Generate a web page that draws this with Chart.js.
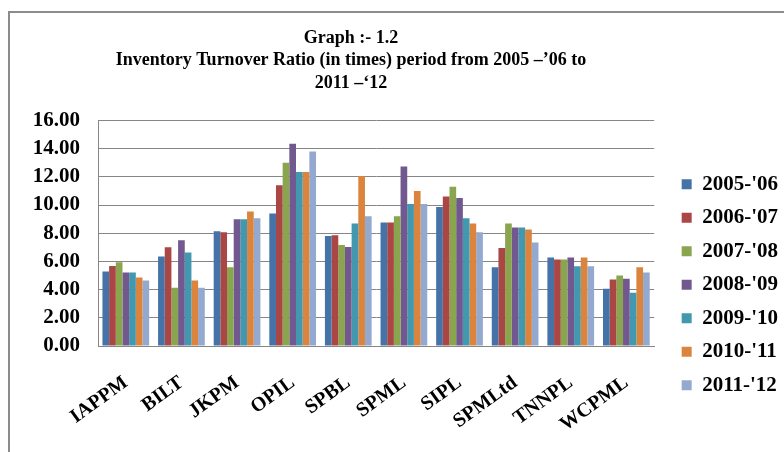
<!DOCTYPE html>
<html>
<head>
<meta charset="utf-8">
<script src="https://cdn.jsdelivr.net/npm/chart.js@4.4.1/dist/chart.umd.min.js"></script>
<style>
  body { margin: 0; background: #fff; overflow: hidden; }
  .frame {
    position: absolute; left: 8px; top: 11px;
    width: 820px; height: 480px;
    border: 2px solid #8c8c8c;
  }
  .box { position: absolute; left: 10px; top: 13px; width: 778px; height: 439px; }
</style>
</head>
<body>
<div class="frame"></div>
<div class="box"><canvas id="myChart"></canvas></div>
<script>
// companies on the x axis
const companies = ["IAPPM", "BILT", "JKPM", "OPIL", "SPBL", "SPML", "SIPL", "SPMLtd", "TNNPL", "WCPML"];
const periods = ["2005-'06", "2006-'07", "2007-'08", "2008-'09", "2009-'10", "2010-'11", "2011-'12"];

// inventory turnover ratio
const y0506 = [5.29, 6.35, 8.14, 9.41, 7.80, 8.76, 9.86, 5.58, 6.28, 4.07];
const y0607 = [5.68, 7.00, 8.07, 11.40, 7.86, 8.76, 10.60, 6.96, 6.14, 4.71];
const y0708 = [5.94, 4.14, 5.58, 13.00, 7.17, 9.20, 11.30, 8.70, 6.14, 5.00];
const y0809 = [5.21, 7.50, 9.00, 14.35, 7.03, 12.74, 10.50, 8.41, 6.28, 4.78];
const y0910 = [5.21, 6.63, 9.00, 12.35, 8.70, 10.07, 9.06, 8.41, 5.65, 3.78];
const y1011 = [4.86, 4.64, 9.55, 12.35, 12.07, 11.00, 8.70, 8.27, 6.28, 5.58];
const y1112 = [4.64, 4.14, 9.06, 13.80, 9.20, 10.07, 8.07, 7.35, 5.65, 5.21];

const yTicks = [0, 2, 4, 6, 8, 10, 12, 14, 16];

const colors = ["#4572A7", "#AA4643", "#89A54E", "#71588F", "#4198AF", "#DB843D", "#93A9CF"];
const seriesList = [y0506, y0607, y0708, y0809, y0910, y1011, y1112];

const serif = "'Liberation Serif', 'Times New Roman', serif";

// move the title a bit left, like in the original sheet
const titleShift = {
  id: "titleShift",
  afterLayout(chart) {
    const t = chart.titleBlock;
    t.left -= 48;
    t.right -= 48;
  }
};

function initChart(target) {
  const datasets = seriesList.map((data, idx) => ({
    label: periods[idx],
    data: data,
    backgroundColor: colors[idx],
    borderWidth: 0,
    barPercentage: 1.0,
    categoryPercentage: 0.84
  }));

  return new Chart(target, {
    type: "bar",
    data: { labels: companies, datasets: datasets },
    plugins: [titleShift],
    options: {
      responsive: true,
      maintainAspectRatio: false,
      animation: false,
      layout: { padding: { left: 0, right: 0, top: 0, bottom: 0 } },
      plugins: {
        title: {
          display: true,
          text: ["Graph :- 1.2", "Inventory Turnover Ratio (in times) period from 2005 \u2013\u201906 to", "2011 \u2013\u201812"],
          color: "#000",
          font: { family: serif, size: 18, weight: "bold", lineHeight: 1.25 },
          padding: { top: 14, bottom: 26 }
        },
        legend: {
          position: "right",
          title: { display: true, text: "", font: { size: 12 }, padding: 45 },
          labels: {
            color: "#000",
            boxWidth: 10,
            boxHeight: 10,
            padding: 12.5,
            font: { family: serif, size: 21, weight: "bold" }
          }
        },
        tooltip: { enabled: false }
      },
      scales: {
        x: {
          grid: { display: false, drawTicks: false },
          border: { color: "#868686", width: 1 },
          afterFit: (axis) => {
            axis.paddingLeft = 0;
            axis.paddingRight = 0;
            axis.height = 106;
          },
          ticks: {
            color: "#000",
            minRotation: 36,
            maxRotation: 36,
            padding: 25,
            font: { family: serif, size: 20, weight: "bold" }
          }
        },
        y: {
          min: 0,
          max: 16,
          afterBuildTicks: (axis) => { axis.ticks = yTicks.map((v) => ({ value: v })); },
          afterFit: (axis) => { axis.width = 88; },
          grid: { color: "#868686", drawTicks: false },
          border: { color: "#868686", width: 1 },
          ticks: {
            color: "#000",
            padding: 18,
            autoSkip: false,
            font: { family: serif, size: 21, weight: "bold" },
            callback: (v) => Number(v).toFixed(2)
          }
        },
        // empty right axis, only keeps a gap before the legend
        gap: {
          position: "right",
          grid: { display: false },
          border: { display: false },
          ticks: { display: false },
          afterFit: (axis) => { axis.width = 15; }
        }
      }
    }
  });
}

document.addEventListener("DOMContentLoaded", () => {
  initChart(document.querySelector("#myChart"));
});
</script>
</body>
</html>
